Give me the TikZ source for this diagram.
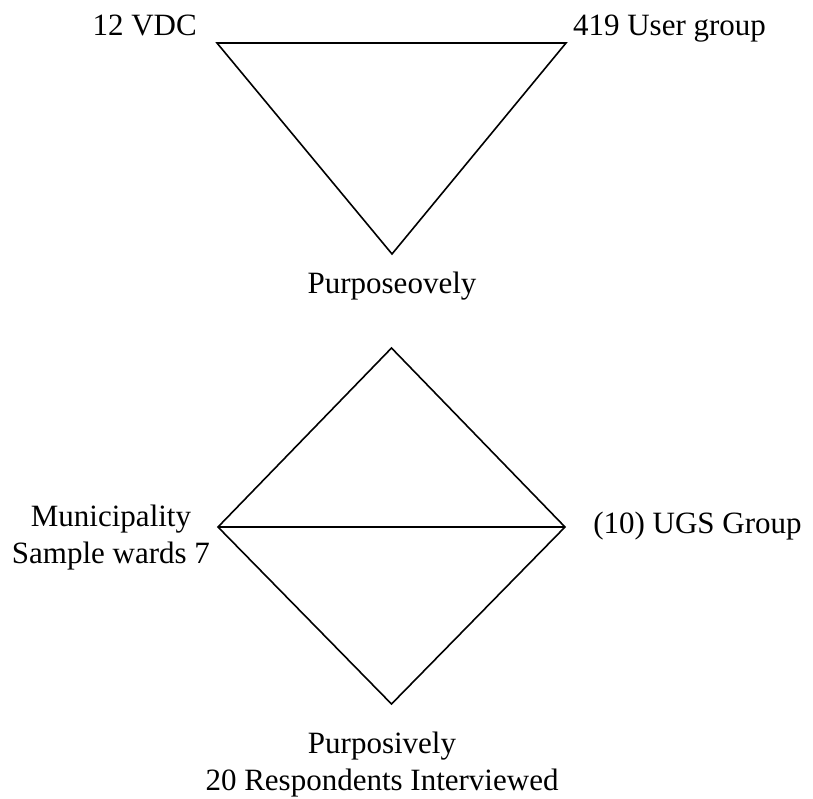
\documentclass[tikz,border=0pt]{standalone}
\usepackage{fontspec}
\setmainfont{Liberation Serif}
\begin{document}
\begin{tikzpicture}[x=0.5pt, y=-0.5pt, line width=0.8pt,
        lbl/.style={align=center, anchor=base, inner sep=0pt, font=\fontsize{15.5}{18.3}\selectfont}]
        \useasboundingbox (0,0) rectangle (813,798);
        % upper triangle
        \coordinate (vdc) at (217, 43);
        \coordinate (ugrp) at (566, 43);
        \coordinate (purp) at (392, 254);
        \draw (vdc) -- (ugrp) -- (purp) -- cycle;
        \node[lbl] (vdclbl) at (144.7, 35.7) {12 VDC};
        \node[lbl] (ugrplbl) at (669.5, 35) {419 User group};
        \node[lbl] (purplbl) at (392, 293.3) {Purposeovely};
        % lower diamond
        \coordinate (dtop) at (391.5, 348);
        \coordinate (dleft) at (218, 527);
        \coordinate (dright) at (565, 527);
        \coordinate (dbot) at (391.5, 704);
        \draw (dtop) -- (dright) -- (dbot) -- (dleft) -- cycle;
        \draw (dleft) -- (dright);
        \node[lbl] (munlbl) at (111, 563) {Municipality\\Sample wards 7};
        \node[lbl] (ugslbl) at (697.5, 533.3) {(10) UGS Group};
        \node[lbl] (resplbl) at (382, 790) {Purposively\\20 Respondents Interviewed};
    \end{tikzpicture}
\end{document}
